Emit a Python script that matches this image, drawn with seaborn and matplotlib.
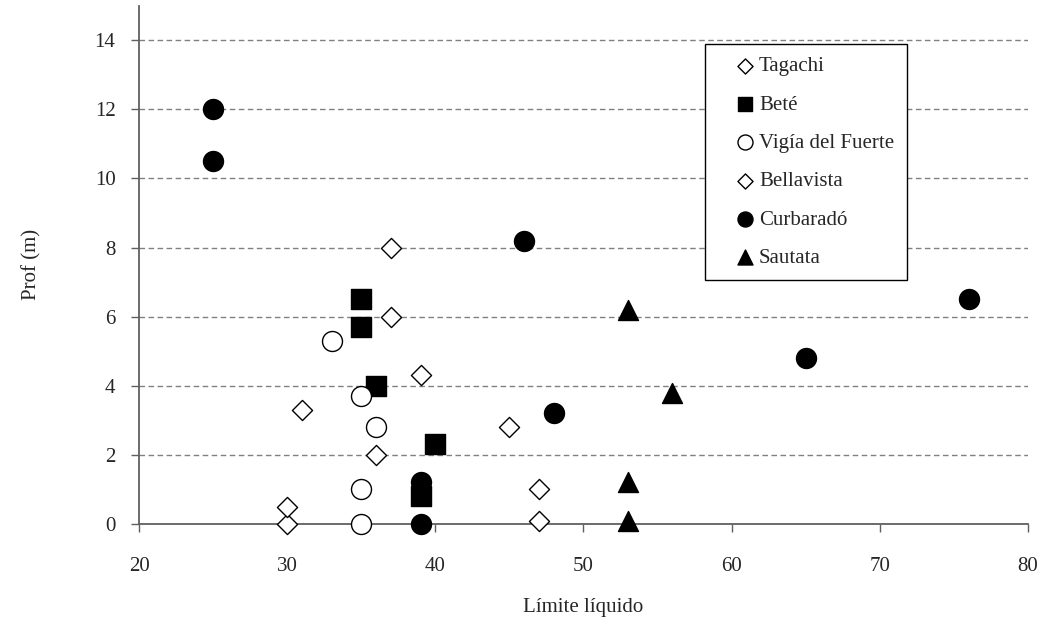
import seaborn as sns
import matplotlib.pyplot as plt
import pandas as pd

# datos: limite liquido vs profundidad
tagachi_ll = [30, 30, 31, 36, 37]
tagachi_prof = [0.0, 0.5, 3.3, 2.0, 6.0]

bete_ll = [35, 35, 36, 40, 39]
bete_prof = [6.5, 5.7, 4.0, 2.3, 0.8]

vigia_ll = [33, 35, 36, 35, 35]
vigia_prof = [5.3, 3.7, 2.8, 1.0, 0.0]

bellavista_ll = [37, 39, 45, 47, 47]
bellavista_prof = [8.0, 4.3, 2.8, 1.0, 0.1]

curbarado_ll = [25, 25, 46, 48, 39, 39, 65, 76]
curbarado_prof = [12.0, 10.5, 8.2, 3.2, 1.2, 0.0, 4.8, 6.5]

sautata_ll = [53, 56, 53, 53]
sautata_prof = [6.2, 3.8, 1.2, 0.1]

sitios = ["Tagachi", "Beté", "Vigía del Fuerte", "Bellavista", "Curbaradó", "Sautata"]

frames = []
for name, xs, ys in zip(sitios,
                        [tagachi_ll, bete_ll, vigia_ll, bellavista_ll, curbarado_ll, sautata_ll],
                        [tagachi_prof, bete_prof, vigia_prof, bellavista_prof, curbarado_prof, sautata_prof]):
    frames.append(pd.DataFrame({"ll": xs, "prof": ys, "sitio": name}))
df = pd.concat(frames, ignore_index=True)

# estilo de cada sitio: marcador, relleno, tamaño
estilos = {
    "Tagachi": ("D", "white", 105),
    "Beté": ("s", "black", 205),
    "Vigía del Fuerte": ("o", "white", 207),
    "Bellavista": ("D", "white", 105),
    "Curbaradó": ("o", "black", 207),
    "Sautata": ("^", "black", 207),
}

sns.set_style("white")
plt.rcParams['font.family'] = ['Liberation Serif', 'DejaVu Serif']

fig = plt.figure(figsize=(10.51, 6.29), dpi=100)
ax = fig.add_axes([0.1323, 0.167, 0.8457, 0.824])

for name in sitios:
    m, fc, s = estilos[name]
    sub = df[df["sitio"] == name]
    sns.scatterplot(data=sub, x="ll", y="prof", marker=m, color=fc,
                    edgecolor="black", linewidth=1.0, s=s, label=name,
                    ax=ax, zorder=3, clip_on=False)

ax.set_xlim(20, 80)
ax.set_ylim(0, 15)
ax.set_xticks(range(20, 81, 10))
ax.set_yticks(range(0, 15, 2))

ax.set_axisbelow(True)
ax.yaxis.grid(True, linestyle=(0, (4, 2.5)), color="#808080", linewidth=1.0)
ax.xaxis.grid(False)

for side in ["top", "right"]:
    ax.spines[side].set_visible(False)
for side in ["left", "bottom"]:
    ax.spines[side].set_color("#606060")
    ax.spines[side].set_linewidth(1.3)

ax.tick_params(axis="x", direction="out", length=6, width=1, color="#606060",
               labelsize=15, pad=17.5)
ax.tick_params(axis="y", direction="out", length=6, width=1, color="#606060",
               labelsize=15, pad=11)
ax.tick_params(bottom=True, left=True)

ax.set_xlabel("Límite líquido", fontsize=15, labelpad=16)
ax.set_ylabel("Prof (m)", fontsize=15, labelpad=38)

leg = ax.legend(loc="upper left", bbox_to_anchor=(0.6367, 0.9257), fontsize=15,
                frameon=True, fancybox=False, edgecolor="black", framealpha=1,
                markerscale=0.75, handlelength=2.64, handletextpad=-0.65,
                labelspacing=0.9, borderpad=0.6, borderaxespad=0)
leg.get_frame().set_linewidth(1.0)

fig.savefig("out.png", dpi=100)
